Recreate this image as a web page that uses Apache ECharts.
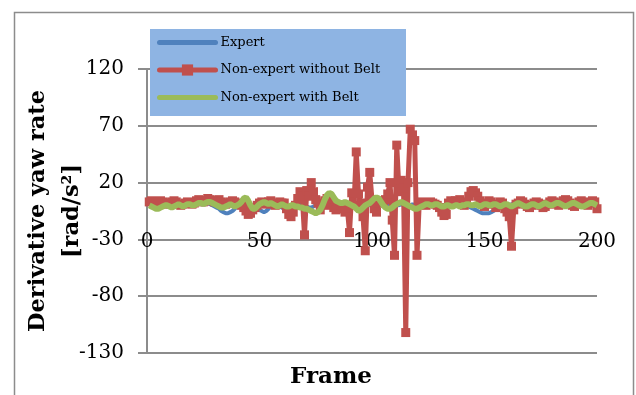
<!DOCTYPE html>
<html>
<head>
<meta charset="utf-8">
<script src="https://cdn.jsdelivr.net/npm/echarts@6/dist/echarts.min.js"></script>
<style>
  html, body { margin: 0; padding: 0; background: #ffffff; }
  #chart { width: 636px; height: 395px; }
</style>
</head>
<body>
<div id="chart"></div>
<script>
// Frame index of each sample
const frames = Array.from({ length: 200 }, (_, i) => i + 1);

// Derivative yaw rate [rad/s^2] per frame
const expert = [
  1, 0, -1, -1, 0, 1, 1, 0, -1, 0,
  0, 1, 1, 0, 0, 1, 1, 0, 0, 1,
  1, 2, 2, 1, 1, 1, 2, 1, 0, -1,
  -2, -3, -5, -6, -7, -7, -6, -5, -3, -1,
  0, 2, 3, 3, 1, -1, -2, -2, -3, -4,
  -5, -6, -5, -3, -1, 0, 0, 0, -1, -2,
  -3, -4, -5, -5, -4, -2, 0, 1, 1, 0,
  -1, -2, -2, -1, 0, 1, 1, 2, 2, 1,
  1, 0, 0, 1, 1, 0, 0, 1, 1, 0,
  0, 1, 0, -1, 0, 0, 1, 1, 0, 0,
  1, 1, 0, 0, 0, 1, 0, 0, 0, 1,
  0, 0, 1, 0, 0, 0, 0, 1, 0, 0,
  0, 1, 1, 0, 0, 0, 1, 0, 0, 0,
  0, 0, 1, 1, 0, 0, 0, 1, 1, 0,
  0, 0, -1, -2, -3, -4, -5, -6, -7, -7,
  -7, -7, -6, -5, -3, -1, 0, 1, 0, 0,
  0, 1, 1, 0, 0, 0, 1, 1, 0, 0,
  0, 1, 1, 0, 0, 1, 1, 0, 0, 1,
  1, 0, 0, 1, 1, 0, 0, 1, 1, 0,
  0, 1, 1, 0, 0, 1, 1, 0, 0, 1
];

const nonExpertNoBelt = [
  3, 4, 2, 1, 3, 4, 3, 2, 1, 2,
  3, 4, 3, 1, 0, 1, 2, 3, 2, 1,
  2, 4, 5, 4, 3, 4, 6, 5, 4, 3,
  4, 5, 3, 2, 1, 2, 3, 4, 3, 2,
  1, 0, -2, -5, -8, -7, -4, -2, 0, 2,
  3, 2, 1, 3, 4, 2, 0, 1, 3, 2,
  2, -3, -8, -10, -6, 0, 6, 12, 8, -26,
  13, 8, 20, 12, 5, 2, -4, 0, 4, 6,
  3, 0, -2, -4, -2, 0, -3, -6, -2, -24,
  11, 0, 47, 10, 2, -10, -40, 16, 29, 5,
  -3, -6, 2, 4, 3, 5, 10, 20, -13, -44,
  53, 12, 22, 15, -112, 20, 67, 62, 57, -44,
  2, 3, 1, 0, 2, 3, 2, 1, 0, -2,
  -6, -9, -8, 2, 4, 3, 4, 3, 5, 2,
  0, 3, 8, 12, 13, 11, 8, 4, 1, -1,
  2, 4, 3, 1, -2, 0, 3, 2, -3, -6,
  -10, -36, -4, 1, 2, 4, 3, 1, -1, -2,
  0, 2, 3, 2, 0, -2, -1, 1, 3, 4,
  3, 1, 0, 2, 4, 5, 4, 2, 0, -1,
  1, 3, 4, 3, 1, 0, 2, 4, 3, -3
];

const nonExpertBelt = [
  0, -1, -2, -3, -3, -2, -1, 0, 0, -1,
  -2, -1, 0, 1, 0, -1, 0, 1, 1, 0,
  0, 1, 2, 2, 1, 2, 3, 3, 2, 1,
  0, -1, -2, -2, -1, 0, 1, 0, -1, 0,
  1, 3, 6, 7, 4, 0, -3, -3, -1, 1,
  2, 3, 2, 1, 2, 1, 0, -1, 0, 1,
  0, -1, -1, 0, 0, -1, -1, -2, -2, -3,
  -3, -4, -5, -6, -7, -6, -4, 0, 5, 9,
  11, 10, 7, 4, 3, 2, 2, 3, 2, 1,
  0, -1, -3, -5, -4, -2, 0, 1, 2, 4,
  6, 7, 6, 3, 0, -2, -3, -3, -2, 0,
  1, 2, 3, 2, 1, 0, -1, -2, -3, -3,
  -2, -1, 0, 1, 1, 0, 0, 1, 1, 0,
  -1, -1, 0, 0, -1, -1, 0, 0, -1, 0,
  0, 1, 1, 0, 0, 1, 0, -1, 0, 1,
  1, 0, 0, 1, 1, 0, -1, 0, 1, 1,
  0, -1, 0, 1, 2, 1, 0, -1, -1, 0,
  1, 1, 0, -1, 0, 1, 2, 1, 0, 0,
  1, 2, 2, 1, 0, -1, 0, 1, 2, 2,
  1, 0, -1, -1, 0, 1, 2, 2, 1, 0
];

const seriesNames = ['Expert', 'Non-expert without Belt', 'Non-expert with Belt'];
const yTicks = { min: -130, max: 120, step: 50 };
const xTicks = { min: 0, max: 200, step: 50 };

const pairs = vals => frames.map((f, i) => [f, vals[i]]);

const serif = 'DejaVu Serif';
const gridGray = '#8c8c8c';
const colors = ['#4f81bd', '#c0504d', '#9bbb59'];

const chart = echarts.init(document.getElementById('chart'), null, { renderer: 'canvas' });

chart.setOption({
  backgroundColor: '#ffffff',
  animation: false,
  graphic: [
    {
      type: 'rect',
      shape: { x: 14.5, y: 12.5, width: 619, height: 400 },
      style: { fill: 'none', stroke: '#8c8c8c', lineWidth: 1.5 },
      z: -1
    },
    {
      type: 'rect',
      shape: { x: 150, y: 29, width: 256, height: 87 },
      style: { fill: '#8eb4e3' },
      z: 10
    }
  ],
  grid: {
    left: 147, right: 39, top: 69, bottom: 42,
    containLabel: false, outerBoundsMode: 'none'
  },
  legend: {
    data: [
      { name: seriesNames[0], itemStyle: { opacity: 0 } },
      { name: seriesNames[1] },
      { name: seriesNames[2], itemStyle: { opacity: 0 } }
    ],
    orient: 'vertical',
    left: 150,
    top: 29,
    padding: [7, 8, 8, 7],
    itemWidth: 56,
    itemHeight: 14,
    itemGap: 14.5,
    z: 11,
    lineStyle: { width: 5, cap: 'round' },
    textStyle: { fontFamily: serif, fontSize: 13, color: '#000000' }
  },
  xAxis: {
    type: 'value',
    min: xTicks.min,
    max: xTicks.max,
    interval: xTicks.step,
    position: 'bottom',
    offset: -114,
    name: 'Frame',
    nameLocation: 'middle',
    nameGap: 127,
    nameMoveOverlap: false,
    nameTextStyle: {
      fontFamily: serif, fontSize: 23, fontWeight: 'bold', color: '#000000',
      padding: [0, 82, 0, 0]
    },
    axisLine: { show: false, onZero: false },
    axisTick: { show: false },
    splitLine: { show: false },
    axisLabel: {
      fontFamily: serif, fontSize: 20, color: '#000000',
      margin: 3, verticalAlign: 'middle'
    }
  },
  yAxis: {
    type: 'value',
    min: yTicks.min,
    max: yTicks.max,
    interval: yTicks.step,
    name: 'Derivative yaw rate\n[rad/s²]',
    nameLocation: 'middle',
    nameRotate: 90,
    nameGap: 58,
    nameMoveOverlap: false,
    nameTextStyle: {
      fontFamily: serif, fontSize: 22.5, fontWeight: 'bold', color: '#000000',
      lineHeight: 34
    },
    axisLine: { show: true, onZero: false, lineStyle: { color: gridGray, width: 2 } },
    axisTick: { show: true, inside: false, length: 9, lineStyle: { color: gridGray, width: 2 } },
    splitLine: { show: true, lineStyle: { color: gridGray, width: 2 } },
    axisLabel: {
      fontFamily: serif, fontSize: 20, color: '#000000', margin: 23,
      padding: [5, 0, 0, 0]
    }
  },
  series: [
    {
      name: seriesNames[0],
      type: 'line',
      z: 2,
      data: pairs(expert),
      symbol: 'none',
      lineStyle: { color: colors[0], width: 4 },
      itemStyle: { color: colors[0] }
    },
    {
      name: seriesNames[1],
      type: 'line',
      z: 3,
      data: pairs(nonExpertNoBelt),
      symbol: 'rect',
      symbolSize: 9,
      lineStyle: { color: colors[1], width: 5 },
      itemStyle: { color: colors[1] }
    },
    {
      name: seriesNames[2],
      type: 'line',
      z: 4,
      data: pairs(nonExpertBelt),
      symbol: 'none',
      lineStyle: { color: colors[2], width: 6 },
      itemStyle: { color: colors[2] }
    }
  ]
});
</script>
</body>
</html>
